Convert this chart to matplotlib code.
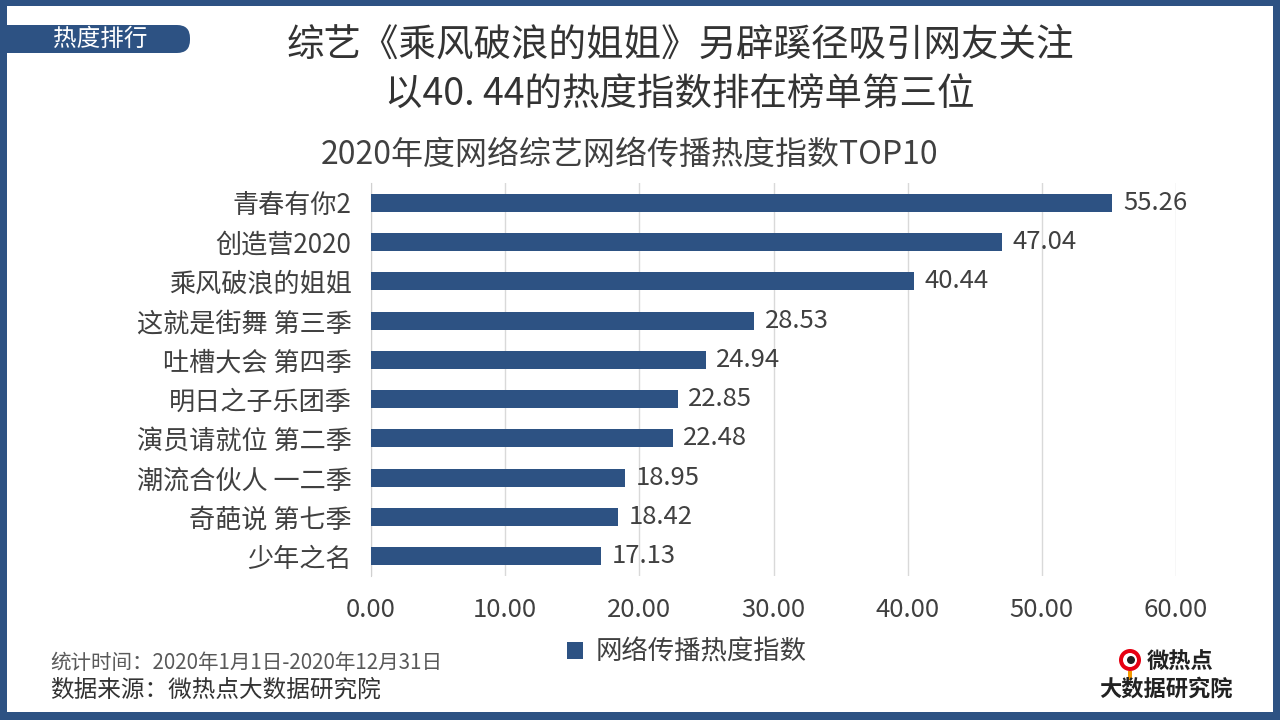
import matplotlib.pyplot as plt
from matplotlib.patches import Rectangle, FancyBboxPatch, Circle

plt.rcParams['font.family'] = ['Noto Sans CJK SC', 'DejaVu Sans']

# data
shows = ['青春有你2', '创造营2020', '乘风破浪的姐姐', '这就是街舞 第三季', '吐槽大会 第四季',
         '明日之子乐团季', '演员请就位 第二季', '潮流合伙人 一二季', '奇葩说 第七季', '少年之名']
heat = [55.26, 47.04, 40.44, 28.53, 24.94, 22.85, 22.48, 18.95, 18.42, 17.13]
xticks = [0, 10, 20, 30, 40, 50, 60]

blue = '#2D5283'
text_c = '#404040'

fig = plt.figure(figsize=(12.8, 7.2), dpi=100)

# background layer in pixel coordinates
bg = fig.add_axes([0, 0, 1, 1], zorder=-1)
bg.set_xlim(0, 1280)
bg.set_ylim(720, 0)
bg.axis('off')
bg.add_patch(Rectangle((0, 0), 1280, 720, facecolor=blue, edgecolor='none'))
bg.add_patch(Rectangle((7, 6), 1266, 706, facecolor='white', edgecolor='none'))
bg.add_patch(FancyBboxPatch((-30, 25), 220, 28, boxstyle='round,pad=0,rounding_size=13',
                            facecolor=blue, edgecolor='none'))
bg.add_patch(Rectangle((0, 20), 7, 40, facecolor=blue, edgecolor='none'))
bg.text(100, 39, '热度排行', color='white', fontsize=17, ha='center', va='center')

bg.text(680, 45, '综艺《乘风破浪的姐姐》另辟蹊径吸引网友关注', color='#333333',
        fontsize=27, ha='center', va='center')
bg.text(680, 95, '以40. 44的热度指数排在榜单第三位', color='#333333',
        fontsize=27, ha='center', va='center')
bg.text(630, 155, '2020年度网络综艺网络传播热度指数TOP10', color=text_c,
        fontsize=23, ha='center', va='center')

bg.text(50, 663, '统计时间：2020年1月1日-2020年12月31日', color='#595959',
        fontsize=14.8, ha='left', va='center')
bg.text(50, 690, '数据来源：微热点大数据研究院', color='#333333',
        fontsize=17, ha='left', va='center')

# logo
bg.add_patch(Circle((1130, 660), 11, facecolor='#E60012', edgecolor='none'))
bg.add_patch(Circle((1130, 660), 7, facecolor='white', edgecolor='none'))
bg.add_patch(Circle((1131, 660), 4, facecolor='#222222', edgecolor='none'))
bg.add_patch(Rectangle((1128, 671), 4, 9, facecolor='#F39800', edgecolor='none'))
bg.text(1180, 662, '微热点', color='#222222', fontsize=16, fontweight='bold',
        ha='center', va='center')
bg.text(1166, 689, '大数据研究院', color='#222222', fontsize=16, fontweight='bold',
        ha='center', va='center')

# main chart
ax = fig.add_axes([371 / 1280, 1 - 576 / 720, 805 / 1280, 393 / 720])
ax.set_facecolor('none')
pos = list(range(len(shows)))[::-1]
bars = ax.barh(pos, heat, height=0.46, color=blue, label='网络传播热度指数', zorder=3)
for p, v in zip(pos, heat):
    ax.text(v + 0.8, p, f'{v:.2f}', color=text_c, fontsize=18.5, va='center', ha='left')

ax.set_xlim(0, 60)
ax.set_ylim(-0.5, len(shows) - 0.5)
ax.set_xticks(xticks)
ax.set_xticklabels([f'{t:.2f}' for t in xticks])
ax.set_yticks(pos)
ax.set_yticklabels(shows)
ax.tick_params(axis='x', length=0, pad=15, labelsize=18.5, labelcolor=text_c)
ax.tick_params(axis='y', length=0, pad=14, labelsize=18.8, labelcolor=text_c)
ax.grid(axis='x', color='#D9D9D9', linewidth=1, zorder=0)
for s in ['top', 'right', 'bottom']:
    ax.spines[s].set_visible(False)
ax.spines['left'].set_color('#D0D0D0')

fig.legend(handles=[bars], labels=['网络传播热度指数'], loc='center',
           bbox_to_anchor=(687 / 1280, 1 - 652 / 720), frameon=False,
           fontsize=19, labelcolor=text_c, handlelength=0.6, handleheight=0.6,
           handletextpad=0.5)

fig.savefig('out.png', dpi=100)
